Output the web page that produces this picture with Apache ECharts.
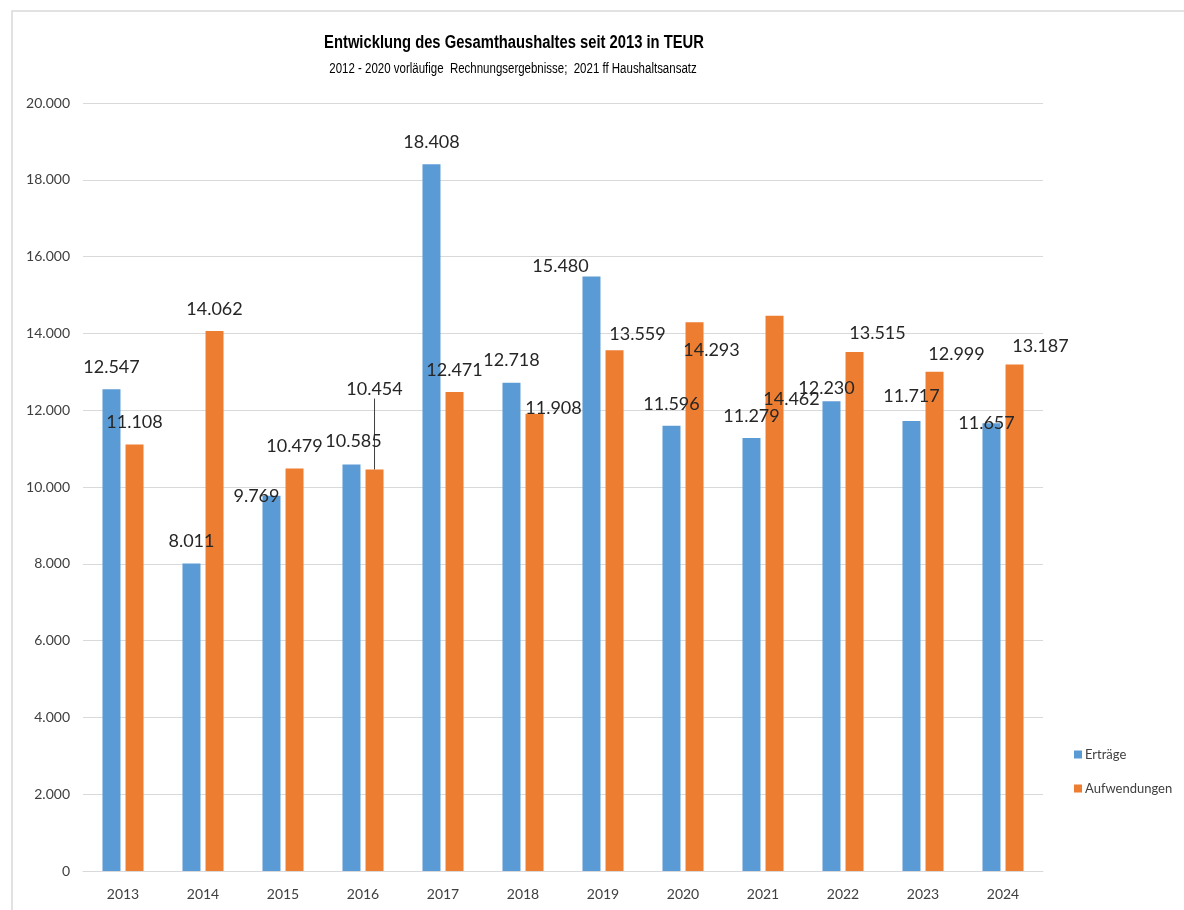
<!DOCTYPE html>
<html>
<head>
<meta charset="utf-8">
<script src="https://cdn.jsdelivr.net/npm/echarts@6/dist/echarts.min.js"></script>
<style>
html,body{margin:0;padding:0;background:#fff;}
#main{width:1184px;height:910px;}
</style>
</head>
<body>
<div id="main"></div>
<script>
const categories = ['2013','2014','2015','2016','2017','2018','2019','2020','2021','2022','2023','2024'];
const ertraege = [12547, 8011, 9769, 10585, 18408, 12718, 15480, 11596, 11279, 12230, 11717, 11657];
const aufwendungen = [11108, 14062, 10479, 10454, 12471, 11908, 13559, 14293, 14462, 13515, 12999, 13187];
const seriesNames = ['Erträge', 'Aufwendungen'];
const titleText = 'Entwicklung des Gesamthaushaltes seit 2013 in TEUR';
const subtitleText = '2012 - 2020 vorläufige  Rechnungsergebnisse;  2021 ff Haushaltsansatz';

// label shifts imitating the manual placement of the original (style only)
const ertraegeLabelShift = [[0,0],[0,0],[-15,22],[2,-1],[0,0],[0,0],[-31,12],[0,0],[0,0],[-5,9],[0,-3],[-5,22]];
const aufwLabelShift = [[0,0],[0,0],[0,0],[0,-58],[0,0],[19,16],[23,6],[17,50],[17,106],[23,3],[22,4],[26,4]];

function fmt(v){
  return String(Math.round(v)).replace(/\B(?=(\d{3})+(?!\d))/g, '.');
}

const chart = echarts.init(document.getElementById('main'));
const labelBase = {
  show: true, position: 'top', distance: 13,
  fontFamily: 'Lato', fontSize: 18, color: '#262626', lineHeight: 18,
  formatter: p => fmt(p.value)
};
chart.setOption({
  animation: false,
  backgroundColor: '#fff',
  graphic: [
    { type: 'rect', shape: { x: 12, y: 11, width: 1300, height: 1000 }, style: { fill: 'none', stroke: '#d9d9d9', lineWidth: 1.5 }, silent: true, z: -1 },
    { type: 'text', x: 514, y: 43, scaleX: 0.82, style: { text: titleText, textAlign: 'center', textVerticalAlign: 'middle', fontFamily: '"Liberation Sans", Arial', fontWeight: 'bold', fontSize: 18, fill: '#000' } },
    { type: 'text', x: 513, y: 69, scaleX: 0.82, style: { text: subtitleText, textAlign: 'center', textVerticalAlign: 'middle', fontFamily: '"Liberation Sans", Arial', fontSize: 14, fill: '#000' } }
  ],
  legend: {
    orient: 'vertical', left: 1074, top: 748, padding: 0,
    itemWidth: 8, itemHeight: 8, itemGap: 21,
    icon: 'rect',
    textStyle: { fontFamily: 'Lato', fontSize: 13, color: '#404040', padding: [0,0,0,-2] },
    data: seriesNames
  },
  grid: { left: 83, right: 141, top: 103, bottom: 39, containLabel: false },
  xAxis: {
    type: 'category', data: categories,
    axisLine: { lineStyle: { color: '#d9d9d9', width: 1 } },
    axisTick: { show: false },
    axisLabel: { fontFamily: 'Lato', fontSize: 14, color: '#404040', margin: 16 }
  },
  yAxis: {
    type: 'value', min: 0, max: 20000, interval: 2000,
    axisLine: { show: false }, axisTick: { show: false },
    splitLine: { lineStyle: { color: '#d9d9d9', width: 1 } },
    axisLabel: { fontFamily: 'Lato', fontSize: 14, color: '#404040', margin: 13, formatter: v => fmt(v) }
  },
  series: [
    {
      name: seriesNames[0], type: 'bar', barWidth: 18, barGap: '28%',
      itemStyle: { color: '#5b9bd5' },
      label: labelBase,
      labelLayout: p => ({ dx: ertraegeLabelShift[p.dataIndex][0], dy: ertraegeLabelShift[p.dataIndex][1] }),
      data: ertraege
    },
    {
      name: seriesNames[1], type: 'bar', barWidth: 18,
      itemStyle: { color: '#ed7d31' },
      label: labelBase,
      labelLayout: p => ({ dx: aufwLabelShift[p.dataIndex][0], dy: aufwLabelShift[p.dataIndex][1] }),
      data: aufwendungen.map((v, i) => {
        const item = { value: v };
        if (i === 3) item.labelLine = { show: true, lineStyle: { color: '#404040', width: 1 } };
        return item;
      })
    }
  ]
});
</script>
</body>
</html>
